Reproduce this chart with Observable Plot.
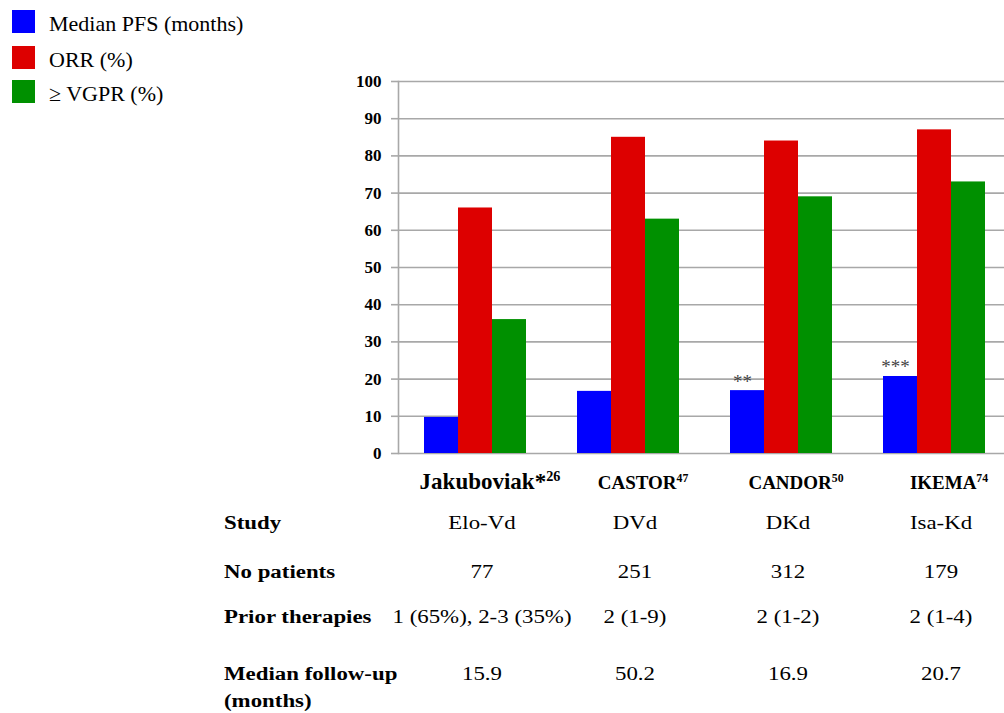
<!DOCTYPE html>
<html>
<head>
<meta charset="utf-8">
<script src="https://cdn.jsdelivr.net/npm/d3@7"></script>
<script src="https://cdn.jsdelivr.net/npm/@observablehq/plot@0.6"></script>
<style>
  body { margin: 0; background: #fff; }
  #wrap { position: relative; width: 1004px; height: 713px; overflow: hidden;
          font-family: "Liberation Serif", "Times New Roman", serif; color: #000; }
  #chart { position: absolute; left: 0; top: 0; }
  .sw { position: absolute; left: 12px; width: 23px; height: 23px; }
  .lt { position: absolute; left: 49px; font-size: 22px; line-height: 1; white-space: nowrap; }
  .rl { position: absolute; left: 224px; font-size: 18px; line-height: 27px; font-weight: bold;
        white-space: nowrap; transform: scaleX(1.27); transform-origin: left center; }
  .cv { position: absolute; width: 240px; text-align: center; font-size: 18px; line-height: 27px;
        white-space: nowrap; transform: scaleX(1.27); transform-origin: center center; }
</style>
</head>
<body>
<div id="wrap"><div id="chart"></div></div>
<script>
// ---- data ----
const studies = ["Jakuboviak*", "CASTOR", "CANDOR", "IKEMA"];
const studyRefs = ["26", "47", "50", "74"];
const series = ["Median PFS (months)", "ORR (%)", "\u2265 VGPR (%)"];
const medianPFS = [9.7, 16.7, 16.9, 20.7];
const orr = [66, 85, 84, 87];
const vgpr = [36, 63, 69, 73];
const pfsNotes = ["", "", "**", "***"];
const yTicks = [0, 10, 20, 30, 40, 50, 60, 70, 80, 90, 100];

const rowLabels = ["Study", "No patients", "Prior therapies", "Median follow-up\n(months)"];
const regimens = ["Elo-Vd", "DVd", "DKd", "Isa-Kd"];
const patients = [77, 251, 312, 179];
const priorTherapies = ["1 (65%), 2-3 (35%)", "2 (1-9)", "2 (1-2)", "2 (1-4)"];
const followUp = [15.9, 50.2, 16.9, 20.7];

// ---- build tables ----
const seriesValues = [medianPFS, orr, vgpr];
const bars = studies.flatMap((s, i) => series.map((k, j) => ({study: s, series: k, value: seriesValues[j][i]})));
const notes = studies.map((s, i) => ({study: s, value: medianPFS[i], note: pfsNotes[i]})).filter(d => d.note);

const colors = ["#0000ff", "#dd0000", "#009000"];
const gray = "#a8a8a8";

const chart = Plot.plot({
  width: 1004,
  height: 500,
  marginLeft: 397,
  marginRight: -6,
  marginTop: 81,
  marginBottom: 47,
  style: {fontFamily: "'Liberation Serif', 'Times New Roman', serif", fontSize: "17px", color: "#000", background: "transparent"},
  fx: {domain: studies, padding: 0, axis: null},
  x: {domain: series, paddingInner: 0, paddingOuter: 0.75, axis: null},
  y: {domain: [0, 100]},
  color: {domain: series, range: colors},
  marks: [
    Plot.ruleY(yTicks, {stroke: gray, strokeWidth: 1.6}),
    Plot.barY(bars, {fx: "study", x: "series", y: "value", fill: "series"}),
    Plot.text(notes, {fx: "study", x: () => series[0], y: "value", text: "note",
      lineAnchor: "bottom", dy: -3, dx: -5, fontSize: 19, fill: "#444"}),
    Plot.text(studies, {fx: d => d, text: d => d, frameAnchor: "bottom", lineAnchor: "bottom",
      dy: 35, dx: 15, fontWeight: "bold", fontSize: d => (d === studies[0] ? 23 : 19)}),
    Plot.axisY({ticks: yTicks, tickSize: 7, tickPadding: 10, stroke: gray, strokeWidth: 1.6,
      fill: "#000", fontWeight: "bold", fontSize: 17, label: null}),
    Plot.frame({anchor: "left", facetAnchor: "left", stroke: gray, strokeWidth: 1.6})
  ]
});
document.getElementById("chart").appendChild(chart);

// superscript reference numbers on study labels
d3.select(chart).selectAll("text").each(function () {
  const i = studies.indexOf(this.textContent);
  if (i >= 0) {
    d3.select(this).append("tspan").attr("dy", "-0.55em").attr("font-size", "0.62em").text(studyRefs[i]);
  }
});

// ---- legend ----
const wrap = document.getElementById("wrap");
const legTops = [10, 46, 80];
series.forEach((s, j) => {
  const sw = document.createElement("div");
  sw.className = "sw";
  sw.style.top = legTops[j] + "px";
  sw.style.background = colors[j];
  wrap.appendChild(sw);
  const t = document.createElement("div");
  t.className = "lt";
  t.style.top = (legTops[j] + 3) + "px";
  t.textContent = s;
  wrap.appendChild(t);
});

// ---- table below ----
const fx = chart.scale("fx");
const centers = studies.map(s => fx.apply(s) + fx.bandwidth / 2 + 7);
const rowBaselines = [530, 579, 624, 681];
const rowValues = [regimens, patients.map(String), priorTherapies, followUp.map(v => v.toFixed(1))];
rowLabels.forEach((lab, r) => {
  const top = rowBaselines[r] - 19.6;
  const d = document.createElement("div");
  d.className = "rl";
  d.style.top = top + "px";
  d.innerHTML = lab.split("\n").map(x => x.replace(/&/g, "&amp;")).join("<br>");
  wrap.appendChild(d);
  rowValues[r].forEach((v, c) => {
    const e = document.createElement("div");
    e.className = "cv";
    e.style.top = top + "px";
    e.style.left = (centers[c] - 120) + "px";
    e.textContent = v;
    wrap.appendChild(e);
  });
});
</script>
</body>
</html>
